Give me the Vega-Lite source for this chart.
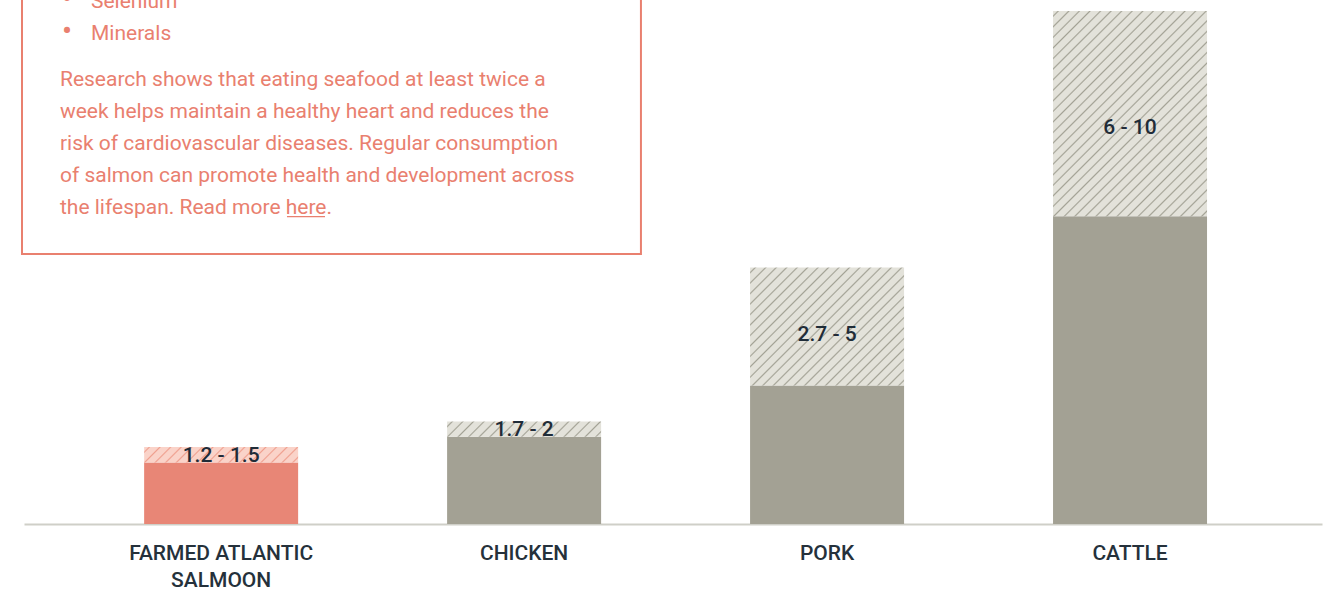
{
  "$schema": "https://vega.github.io/schema/vega-lite/v6.json",
  "width": 1298,
  "height": 513,
  "autosize": {"type": "none"},
  "padding": {"left": 24, "top": 11, "right": 13, "bottom": 66},
  "background": "white",
  "config": {"view": {"stroke": null}, "font": "Roboto"},
  "datasets": {
    "meat": [
      {"animal": "FARMED ATLANTIC SALMOON", "lo": 1.2, "hi": 1.5, "label": "1.2 - 1.5"},
      {"animal": "CHICKEN", "lo": 1.7, "hi": 2, "label": "1.7 - 2"},
      {"animal": "PORK", "lo": 2.7, "hi": 5, "label": "2.7 - 5"},
      {"animal": "CATTLE", "lo": 6, "hi": 10, "label": "6 - 10"}
    ],
    "box": [
      {"x1": -0.154, "x2": 47.53, "y1": 5.263, "y2": 10.6}
    ],
    "bullets": [
      {"t": "Selenium", "px": 5.16, "py": 10.058},
      {"t": "Minerals", "px": 5.16, "py": 9.435}
    ],
    "para": [
      {"t": "Research shows that eating seafood at least twice a", "px": 2.77, "py": 8.538},
      {"t": "week helps maintain a healthy heart and reduces the", "px": 2.77, "py": 7.914},
      {"t": "risk of cardiovascular diseases. Regular consumption", "px": 2.77, "py": 7.29},
      {"t": "of salmon can promote health and development across", "px": 2.77, "py": 6.667},
      {"t": "the lifespan. Read more here.", "px": 2.77, "py": 6.043}
    ],
    "underline": [
      {"x1": 20.26, "x2": 23.19, "y": 5.99}
    ]
  },
  "resolve": {"scale": {"x": "independent", "y": "shared"}},
  "layer": [
    {
      "data": {"name": "meat"},
      "encoding": {
        "x": {
          "field": "animal",
          "type": "nominal",
          "sort": null,
          "scale": {"domain": ["FARMED ATLANTIC SALMOON", "CHICKEN", "PORK", "CATTLE"], "paddingInner": 0.4917, "paddingOuter": 0.388, "align": 0.511},
          "axis": {
            "title": null,
            "ticks": false,
            "labelAngle": 0,
            "labelPadding": 18,
            "labelLimit": 0,
            "labelFont": "Roboto",
            "labelFontSize": 21,
            "labelFontWeight": 500,
            "labelColor": "#25313b",
            "labelLineHeight": 27,
            "labelBaseline": "top",
            "labelExpr": "datum.value == 'FARMED ATLANTIC SALMOON' ? ['FARMED ATLANTIC', 'SALMOON'] : datum.label",
            "domainColor": "#cfcfc8",
            "domainWidth": 2,
            "grid": false
          }
        },
        "y": {"field": "lo", "type": "quantitative", "scale": {"domain": [0, 10], "nice": false}, "axis": null}
      },
      "layer": [
        {
          "mark": {"type": "bar"},
          "encoding": {
            "y2": {"datum": 0},
            "fill": {
              "condition": {"test": "datum.animal === 'FARMED ATLANTIC SALMOON'", "value": "#e88676"},
              "value": "#a3a194"
            }
          }
        },
        {
          "transform": [{"filter": "datum.animal === 'FARMED ATLANTIC SALMOON'"}],
          "mark": {"type": "bar", "fill": {"gradient": "linear", "x1": 0, "y1": 0, "x2": 1.0891, "y2": 0.10883, "stops": [
            {"offset": 0.0219, "color": "#fad3c9"}, {"offset": 0.0313, "color": "#ef9f8e"}, {"offset": 0.0406, "color": "#fad3c9"},
            {"offset": 0.0844, "color": "#fad3c9"}, {"offset": 0.0938, "color": "#ef9f8e"}, {"offset": 0.1031, "color": "#fad3c9"},
            {"offset": 0.1469, "color": "#fad3c9"}, {"offset": 0.1563, "color": "#ef9f8e"}, {"offset": 0.1656, "color": "#fad3c9"},
            {"offset": 0.2094, "color": "#fad3c9"}, {"offset": 0.2188, "color": "#ef9f8e"}, {"offset": 0.2281, "color": "#fad3c9"},
            {"offset": 0.2719, "color": "#fad3c9"}, {"offset": 0.2813, "color": "#ef9f8e"}, {"offset": 0.2906, "color": "#fad3c9"},
            {"offset": 0.3344, "color": "#fad3c9"}, {"offset": 0.3438, "color": "#ef9f8e"}, {"offset": 0.3531, "color": "#fad3c9"},
            {"offset": 0.3969, "color": "#fad3c9"}, {"offset": 0.4063, "color": "#ef9f8e"}, {"offset": 0.4156, "color": "#fad3c9"},
            {"offset": 0.4594, "color": "#fad3c9"}, {"offset": 0.4688, "color": "#ef9f8e"}, {"offset": 0.4781, "color": "#fad3c9"},
            {"offset": 0.5219, "color": "#fad3c9"}, {"offset": 0.5313, "color": "#ef9f8e"}, {"offset": 0.5406, "color": "#fad3c9"},
            {"offset": 0.5844, "color": "#fad3c9"}, {"offset": 0.5938, "color": "#ef9f8e"}, {"offset": 0.6031, "color": "#fad3c9"},
            {"offset": 0.6469, "color": "#fad3c9"}, {"offset": 0.6563, "color": "#ef9f8e"}, {"offset": 0.6656, "color": "#fad3c9"},
            {"offset": 0.7094, "color": "#fad3c9"}, {"offset": 0.7188, "color": "#ef9f8e"}, {"offset": 0.7281, "color": "#fad3c9"},
            {"offset": 0.7719, "color": "#fad3c9"}, {"offset": 0.7813, "color": "#ef9f8e"}, {"offset": 0.7906, "color": "#fad3c9"},
            {"offset": 0.8344, "color": "#fad3c9"}, {"offset": 0.8438, "color": "#ef9f8e"}, {"offset": 0.8531, "color": "#fad3c9"},
            {"offset": 0.8969, "color": "#fad3c9"}, {"offset": 0.9063, "color": "#ef9f8e"}, {"offset": 0.9156, "color": "#fad3c9"},
            {"offset": 0.9594, "color": "#fad3c9"}, {"offset": 0.9688, "color": "#ef9f8e"}, {"offset": 0.9781, "color": "#fad3c9"}
          ]}},
          "encoding": {"y2": {"field": "hi"}}
        },
        {
          "transform": [{"filter": "datum.animal === 'CHICKEN'"}],
          "mark": {"type": "bar", "fill": {"gradient": "linear", "x1": 0, "y1": 0, "x2": 1.0891, "y2": 0.10883, "stops": [
            {"offset": 0.0219, "color": "#e3e2da"}, {"offset": 0.0313, "color": "#a3a295"}, {"offset": 0.0406, "color": "#e3e2da"},
            {"offset": 0.0844, "color": "#e3e2da"}, {"offset": 0.0938, "color": "#a3a295"}, {"offset": 0.1031, "color": "#e3e2da"},
            {"offset": 0.1469, "color": "#e3e2da"}, {"offset": 0.1563, "color": "#a3a295"}, {"offset": 0.1656, "color": "#e3e2da"},
            {"offset": 0.2094, "color": "#e3e2da"}, {"offset": 0.2188, "color": "#a3a295"}, {"offset": 0.2281, "color": "#e3e2da"},
            {"offset": 0.2719, "color": "#e3e2da"}, {"offset": 0.2813, "color": "#a3a295"}, {"offset": 0.2906, "color": "#e3e2da"},
            {"offset": 0.3344, "color": "#e3e2da"}, {"offset": 0.3438, "color": "#a3a295"}, {"offset": 0.3531, "color": "#e3e2da"},
            {"offset": 0.3969, "color": "#e3e2da"}, {"offset": 0.4063, "color": "#a3a295"}, {"offset": 0.4156, "color": "#e3e2da"},
            {"offset": 0.4594, "color": "#e3e2da"}, {"offset": 0.4688, "color": "#a3a295"}, {"offset": 0.4781, "color": "#e3e2da"},
            {"offset": 0.5219, "color": "#e3e2da"}, {"offset": 0.5313, "color": "#a3a295"}, {"offset": 0.5406, "color": "#e3e2da"},
            {"offset": 0.5844, "color": "#e3e2da"}, {"offset": 0.5938, "color": "#a3a295"}, {"offset": 0.6031, "color": "#e3e2da"},
            {"offset": 0.6469, "color": "#e3e2da"}, {"offset": 0.6563, "color": "#a3a295"}, {"offset": 0.6656, "color": "#e3e2da"},
            {"offset": 0.7094, "color": "#e3e2da"}, {"offset": 0.7188, "color": "#a3a295"}, {"offset": 0.7281, "color": "#e3e2da"},
            {"offset": 0.7719, "color": "#e3e2da"}, {"offset": 0.7813, "color": "#a3a295"}, {"offset": 0.7906, "color": "#e3e2da"},
            {"offset": 0.8344, "color": "#e3e2da"}, {"offset": 0.8438, "color": "#a3a295"}, {"offset": 0.8531, "color": "#e3e2da"},
            {"offset": 0.8969, "color": "#e3e2da"}, {"offset": 0.9063, "color": "#a3a295"}, {"offset": 0.9156, "color": "#e3e2da"},
            {"offset": 0.9594, "color": "#e3e2da"}, {"offset": 0.9688, "color": "#a3a295"}, {"offset": 0.9781, "color": "#e3e2da"}
          ]}},
          "encoding": {"y2": {"field": "hi"}}
        },
        {
          "transform": [{"filter": "datum.animal === 'PORK'"}],
          "mark": {"type": "bar", "fill": {"gradient": "linear", "x1": 0, "y1": 0, "x2": 1.1129, "y2": 0.8527, "stops": [
            {"offset": 0.0133, "color": "#e3e2da"}, {"offset": 0.0192, "color": "#a3a295"}, {"offset": 0.0251, "color": "#e3e2da"},
            {"offset": 0.0518, "color": "#e3e2da"}, {"offset": 0.0577, "color": "#a3a295"}, {"offset": 0.0636, "color": "#e3e2da"},
            {"offset": 0.0903, "color": "#e3e2da"}, {"offset": 0.0962, "color": "#a3a295"}, {"offset": 0.1021, "color": "#e3e2da"},
            {"offset": 0.1287, "color": "#e3e2da"}, {"offset": 0.1346, "color": "#a3a295"}, {"offset": 0.1405, "color": "#e3e2da"},
            {"offset": 0.1672, "color": "#e3e2da"}, {"offset": 0.1731, "color": "#a3a295"}, {"offset": 0.1790, "color": "#e3e2da"},
            {"offset": 0.2056, "color": "#e3e2da"}, {"offset": 0.2115, "color": "#a3a295"}, {"offset": 0.2174, "color": "#e3e2da"},
            {"offset": 0.2441, "color": "#e3e2da"}, {"offset": 0.2500, "color": "#a3a295"}, {"offset": 0.2559, "color": "#e3e2da"},
            {"offset": 0.2826, "color": "#e3e2da"}, {"offset": 0.2885, "color": "#a3a295"}, {"offset": 0.2944, "color": "#e3e2da"},
            {"offset": 0.3210, "color": "#e3e2da"}, {"offset": 0.3269, "color": "#a3a295"}, {"offset": 0.3328, "color": "#e3e2da"},
            {"offset": 0.3595, "color": "#e3e2da"}, {"offset": 0.3654, "color": "#a3a295"}, {"offset": 0.3713, "color": "#e3e2da"},
            {"offset": 0.3979, "color": "#e3e2da"}, {"offset": 0.4038, "color": "#a3a295"}, {"offset": 0.4097, "color": "#e3e2da"},
            {"offset": 0.4364, "color": "#e3e2da"}, {"offset": 0.4423, "color": "#a3a295"}, {"offset": 0.4482, "color": "#e3e2da"},
            {"offset": 0.4749, "color": "#e3e2da"}, {"offset": 0.4808, "color": "#a3a295"}, {"offset": 0.4867, "color": "#e3e2da"},
            {"offset": 0.5133, "color": "#e3e2da"}, {"offset": 0.5192, "color": "#a3a295"}, {"offset": 0.5251, "color": "#e3e2da"},
            {"offset": 0.5518, "color": "#e3e2da"}, {"offset": 0.5577, "color": "#a3a295"}, {"offset": 0.5636, "color": "#e3e2da"},
            {"offset": 0.5903, "color": "#e3e2da"}, {"offset": 0.5962, "color": "#a3a295"}, {"offset": 0.6021, "color": "#e3e2da"},
            {"offset": 0.6287, "color": "#e3e2da"}, {"offset": 0.6346, "color": "#a3a295"}, {"offset": 0.6405, "color": "#e3e2da"},
            {"offset": 0.6672, "color": "#e3e2da"}, {"offset": 0.6731, "color": "#a3a295"}, {"offset": 0.6790, "color": "#e3e2da"},
            {"offset": 0.7056, "color": "#e3e2da"}, {"offset": 0.7115, "color": "#a3a295"}, {"offset": 0.7174, "color": "#e3e2da"},
            {"offset": 0.7441, "color": "#e3e2da"}, {"offset": 0.7500, "color": "#a3a295"}, {"offset": 0.7559, "color": "#e3e2da"},
            {"offset": 0.7826, "color": "#e3e2da"}, {"offset": 0.7885, "color": "#a3a295"}, {"offset": 0.7944, "color": "#e3e2da"},
            {"offset": 0.8210, "color": "#e3e2da"}, {"offset": 0.8269, "color": "#a3a295"}, {"offset": 0.8328, "color": "#e3e2da"},
            {"offset": 0.8595, "color": "#e3e2da"}, {"offset": 0.8654, "color": "#a3a295"}, {"offset": 0.8713, "color": "#e3e2da"},
            {"offset": 0.8979, "color": "#e3e2da"}, {"offset": 0.9038, "color": "#a3a295"}, {"offset": 0.9097, "color": "#e3e2da"},
            {"offset": 0.9364, "color": "#e3e2da"}, {"offset": 0.9423, "color": "#a3a295"}, {"offset": 0.9482, "color": "#e3e2da"},
            {"offset": 0.9749, "color": "#e3e2da"}, {"offset": 0.9808, "color": "#a3a295"}, {"offset": 0.9867, "color": "#e3e2da"}
          ]}},
          "encoding": {"y2": {"field": "hi"}}
        },
        {
          "transform": [{"filter": "datum.animal === 'CATTLE'"}],
          "mark": {"type": "bar", "fill": {"gradient": "linear", "x1": 0, "y1": 0, "x2": 0.8404, "y2": 1.1198, "stops": [
            {"offset": 0.0102, "color": "#e3e2da"}, {"offset": 0.0147, "color": "#a3a295"}, {"offset": 0.0192, "color": "#e3e2da"},
            {"offset": 0.0396, "color": "#e3e2da"}, {"offset": 0.0441, "color": "#a3a295"}, {"offset": 0.0486, "color": "#e3e2da"},
            {"offset": 0.0690, "color": "#e3e2da"}, {"offset": 0.0735, "color": "#a3a295"}, {"offset": 0.0780, "color": "#e3e2da"},
            {"offset": 0.0984, "color": "#e3e2da"}, {"offset": 0.1029, "color": "#a3a295"}, {"offset": 0.1074, "color": "#e3e2da"},
            {"offset": 0.1279, "color": "#e3e2da"}, {"offset": 0.1324, "color": "#a3a295"}, {"offset": 0.1369, "color": "#e3e2da"},
            {"offset": 0.1573, "color": "#e3e2da"}, {"offset": 0.1618, "color": "#a3a295"}, {"offset": 0.1663, "color": "#e3e2da"},
            {"offset": 0.1867, "color": "#e3e2da"}, {"offset": 0.1912, "color": "#a3a295"}, {"offset": 0.1957, "color": "#e3e2da"},
            {"offset": 0.2161, "color": "#e3e2da"}, {"offset": 0.2206, "color": "#a3a295"}, {"offset": 0.2251, "color": "#e3e2da"},
            {"offset": 0.2455, "color": "#e3e2da"}, {"offset": 0.2500, "color": "#a3a295"}, {"offset": 0.2545, "color": "#e3e2da"},
            {"offset": 0.2749, "color": "#e3e2da"}, {"offset": 0.2794, "color": "#a3a295"}, {"offset": 0.2839, "color": "#e3e2da"},
            {"offset": 0.3043, "color": "#e3e2da"}, {"offset": 0.3088, "color": "#a3a295"}, {"offset": 0.3133, "color": "#e3e2da"},
            {"offset": 0.3337, "color": "#e3e2da"}, {"offset": 0.3382, "color": "#a3a295"}, {"offset": 0.3427, "color": "#e3e2da"},
            {"offset": 0.3631, "color": "#e3e2da"}, {"offset": 0.3676, "color": "#a3a295"}, {"offset": 0.3721, "color": "#e3e2da"},
            {"offset": 0.3926, "color": "#e3e2da"}, {"offset": 0.3971, "color": "#a3a295"}, {"offset": 0.4016, "color": "#e3e2da"},
            {"offset": 0.4220, "color": "#e3e2da"}, {"offset": 0.4265, "color": "#a3a295"}, {"offset": 0.4310, "color": "#e3e2da"},
            {"offset": 0.4514, "color": "#e3e2da"}, {"offset": 0.4559, "color": "#a3a295"}, {"offset": 0.4604, "color": "#e3e2da"},
            {"offset": 0.4808, "color": "#e3e2da"}, {"offset": 0.4853, "color": "#a3a295"}, {"offset": 0.4898, "color": "#e3e2da"},
            {"offset": 0.5102, "color": "#e3e2da"}, {"offset": 0.5147, "color": "#a3a295"}, {"offset": 0.5192, "color": "#e3e2da"},
            {"offset": 0.5396, "color": "#e3e2da"}, {"offset": 0.5441, "color": "#a3a295"}, {"offset": 0.5486, "color": "#e3e2da"},
            {"offset": 0.5690, "color": "#e3e2da"}, {"offset": 0.5735, "color": "#a3a295"}, {"offset": 0.5780, "color": "#e3e2da"},
            {"offset": 0.5984, "color": "#e3e2da"}, {"offset": 0.6029, "color": "#a3a295"}, {"offset": 0.6074, "color": "#e3e2da"},
            {"offset": 0.6279, "color": "#e3e2da"}, {"offset": 0.6324, "color": "#a3a295"}, {"offset": 0.6369, "color": "#e3e2da"},
            {"offset": 0.6573, "color": "#e3e2da"}, {"offset": 0.6618, "color": "#a3a295"}, {"offset": 0.6663, "color": "#e3e2da"},
            {"offset": 0.6867, "color": "#e3e2da"}, {"offset": 0.6912, "color": "#a3a295"}, {"offset": 0.6957, "color": "#e3e2da"},
            {"offset": 0.7161, "color": "#e3e2da"}, {"offset": 0.7206, "color": "#a3a295"}, {"offset": 0.7251, "color": "#e3e2da"},
            {"offset": 0.7455, "color": "#e3e2da"}, {"offset": 0.7500, "color": "#a3a295"}, {"offset": 0.7545, "color": "#e3e2da"},
            {"offset": 0.7749, "color": "#e3e2da"}, {"offset": 0.7794, "color": "#a3a295"}, {"offset": 0.7839, "color": "#e3e2da"},
            {"offset": 0.8043, "color": "#e3e2da"}, {"offset": 0.8088, "color": "#a3a295"}, {"offset": 0.8133, "color": "#e3e2da"},
            {"offset": 0.8337, "color": "#e3e2da"}, {"offset": 0.8382, "color": "#a3a295"}, {"offset": 0.8427, "color": "#e3e2da"},
            {"offset": 0.8631, "color": "#e3e2da"}, {"offset": 0.8676, "color": "#a3a295"}, {"offset": 0.8721, "color": "#e3e2da"},
            {"offset": 0.8926, "color": "#e3e2da"}, {"offset": 0.8971, "color": "#a3a295"}, {"offset": 0.9016, "color": "#e3e2da"},
            {"offset": 0.9220, "color": "#e3e2da"}, {"offset": 0.9265, "color": "#a3a295"}, {"offset": 0.9310, "color": "#e3e2da"},
            {"offset": 0.9514, "color": "#e3e2da"}, {"offset": 0.9559, "color": "#a3a295"}, {"offset": 0.9604, "color": "#e3e2da"},
            {"offset": 0.9808, "color": "#e3e2da"}, {"offset": 0.9853, "color": "#a3a295"}, {"offset": 0.9898, "color": "#e3e2da"}
          ]}},
          "encoding": {"y2": {"field": "hi"}}
        },
        {
          "transform": [{"calculate": "datum.hi - 0.57 * (datum.hi - datum.lo)", "as": "ly"}],
          "mark": {"type": "text", "fontSize": 21, "fontWeight": 500, "color": "#1f2c38", "baseline": "middle"},
          "encoding": {
            "y": {"field": "ly", "type": "quantitative", "scale": {"domain": [0, 10], "nice": false}, "axis": null},
            "text": {"field": "label"}
          }
        }
      ]
    },
    {
      "layer": [
        {
          "data": {"name": "box"},
          "mark": {"type": "rect", "fill": null, "stroke": "#e9806f", "strokeWidth": 2},
          "encoding": {
            "x": {"field": "x1", "type": "quantitative", "scale": {"domain": [0, 100]}, "axis": null},
            "x2": {"field": "x2"},
            "y": {"field": "y1", "type": "quantitative", "axis": null},
            "y2": {"field": "y2"}
          }
        },
        {
          "data": {"name": "bullets"},
          "mark": {"type": "text", "align": "left", "baseline": "alphabetic", "fontSize": 21, "color": "#e9806f"},
          "encoding": {
            "x": {"field": "px", "type": "quantitative", "scale": {"domain": [0, 100]}, "axis": null},
            "y": {"field": "py", "type": "quantitative", "axis": null},
            "text": {"field": "t"}
          }
        },
        {
          "data": {"name": "bullets"},
          "mark": {"type": "text", "align": "center", "baseline": "middle", "fontSize": 30, "color": "#e9806f", "dx": -24, "dy": -8, "text": "•"},
          "encoding": {
            "x": {"field": "px", "type": "quantitative", "scale": {"domain": [0, 100]}, "axis": null},
            "y": {"field": "py", "type": "quantitative", "axis": null}
          }
        },
        {
          "data": {"name": "para"},
          "mark": {"type": "text", "align": "left", "baseline": "alphabetic", "fontSize": 21, "color": "#e9806f"},
          "encoding": {
            "x": {"field": "px", "type": "quantitative", "scale": {"domain": [0, 100]}, "axis": null},
            "y": {"field": "py", "type": "quantitative", "axis": null},
            "text": {"field": "t"}
          }
        },
        {
          "data": {"name": "underline"},
          "mark": {"type": "rule", "color": "#e9806f", "strokeWidth": 1.2},
          "encoding": {
            "x": {"field": "x1", "type": "quantitative", "scale": {"domain": [0, 100]}, "axis": null},
            "x2": {"field": "x2"},
            "y": {"field": "y", "type": "quantitative", "axis": null}
          }
        }
      ]
    }
  ]
}
